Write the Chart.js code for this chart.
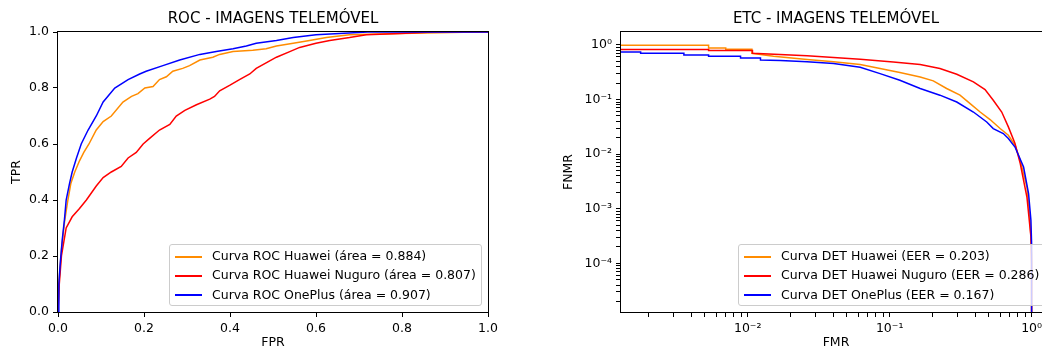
<!DOCTYPE html>
<html>
<head>
<meta charset="utf-8">
<script src="https://cdn.jsdelivr.net/npm/chart.js@4.4.0/dist/chart.umd.min.js"></script>
<style>
  html, body { margin: 0; padding: 0; background: #fff; overflow: hidden; }
  #page { position: relative; width: 1042px; height: 353px; overflow: hidden; }
  .panel { position: absolute; top: 0; height: 353px; }
  .legend {
    position: absolute; box-sizing: border-box;
    background: rgba(255, 255, 255, 0.8);
    border: 1px solid #ccc; border-radius: 3px;
    padding: 1px 5px;
    font: 12.5px "DejaVu Sans"; line-height: 19.3px; color: #000;
    white-space: nowrap;
  }
  .legend .swatch {
    display: inline-block; width: 27px; height: 2px;
    vertical-align: middle; margin-right: 10px;
  }
</style>
</head>
<body>
<div id="page">
  <div class="panel" id="rocPanel" style="left:0;width:520px"><canvas id="rocChart" width="520" height="353"></canvas></div>
  <div class="panel" id="detPanel" style="left:540px;width:512px"><canvas id="detChart" width="512" height="353"></canvas></div>
</div>
<script>
const FONT = "DejaVu Sans";

const devices = ["Huawei", "Huawei Nuguro", "OnePlus"];
const colors = ["#ff8c00", "#ff0000", "#0000ff"];
const aucValues = [0.884, 0.807, 0.907];
const eerValues = [0.203, 0.286, 0.167];

// ROC curves (FPR, TPR)
const rocFprHuawei = [0, 0.003, 0.008, 0.015, 0.023, 0.030, 0.039, 0.050, 0.060, 0.072, 0.089, 0.105, 0.124, 0.151, 0.171, 0.186, 0.202, 0.221, 0.236, 0.252, 0.267, 0.290, 0.306, 0.330, 0.360, 0.376, 0.407, 0.453, 0.484, 0.508, 0.547, 0.585, 0.624, 0.678, 0.795, 0.973, 1.0];
const rocTprHuawei = [0, 0.12, 0.22, 0.32, 0.40, 0.46, 0.50, 0.54, 0.57, 0.60, 0.65, 0.68, 0.70, 0.75, 0.77, 0.78, 0.80, 0.805, 0.83, 0.84, 0.86, 0.87, 0.88, 0.90, 0.91, 0.92, 0.93, 0.935, 0.94, 0.95, 0.96, 0.97, 0.98, 0.99, 0.995, 1.0, 1.0];

const rocFprNuguro = [0, 0.003, 0.008, 0.019, 0.033, 0.050, 0.066, 0.089, 0.105, 0.124, 0.147, 0.163, 0.182, 0.198, 0.213, 0.236, 0.260, 0.275, 0.295, 0.322, 0.353, 0.364, 0.376, 0.400, 0.422, 0.446, 0.461, 0.484, 0.508, 0.539, 0.562, 0.600, 0.632, 0.678, 0.717, 0.795, 0.872, 1.0];
const rocTprNuguro = [0, 0.10, 0.20, 0.30, 0.34, 0.37, 0.40, 0.45, 0.48, 0.50, 0.52, 0.55, 0.57, 0.60, 0.62, 0.65, 0.67, 0.70, 0.72, 0.74, 0.76, 0.77, 0.79, 0.81, 0.83, 0.85, 0.87, 0.89, 0.91, 0.93, 0.945, 0.96, 0.97, 0.98, 0.99, 0.995, 1.0, 1.0];

const rocFprOnePlus = [0, 0.002, 0.005, 0.010, 0.015, 0.019, 0.027, 0.033, 0.043, 0.054, 0.070, 0.089, 0.105, 0.132, 0.163, 0.190, 0.205, 0.244, 0.283, 0.330, 0.368, 0.407, 0.438, 0.461, 0.508, 0.547, 0.600, 0.720, 1.0];
const rocTprOnePlus = [0, 0.10, 0.17, 0.26, 0.33, 0.40, 0.46, 0.50, 0.55, 0.60, 0.65, 0.70, 0.75, 0.80, 0.83, 0.85, 0.86, 0.88, 0.90, 0.92, 0.93, 0.94, 0.95, 0.96, 0.97, 0.98, 0.99, 1.0, 1.0];

// DET curves (FMR, FNMR), first and last points fall outside the log axes
const detFmrHuawei = [0.001, 0.0053, 0.0053, 0.0070, 0.0070, 0.0107, 0.0107, 0.0152, 0.0262, 0.0403, 0.062, 0.0856, 0.118, 0.164, 0.203, 0.252, 0.313, 0.369, 0.434, 0.51, 0.60, 0.686, 0.764, 0.832, 0.927, 0.968, 0.99, 1.0, 1.0];
const detFnmrHuawei = [0.98, 0.98, 0.88, 0.88, 0.83, 0.83, 0.70, 0.62, 0.54, 0.49, 0.436, 0.368, 0.311, 0.259, 0.219, 0.159, 0.12, 0.0843, 0.059, 0.043, 0.0294, 0.0222, 0.0146, 0.0077, 0.0025, 0.00082, 0.0003, 0.00015, 1e-6];

const detFmrNuguro = [0.001, 0.0053, 0.0053, 0.0108, 0.0108, 0.0262, 0.062, 0.106, 0.164, 0.226, 0.297, 0.389, 0.47, 0.537, 0.616, 0.686, 0.764, 0.832, 0.927, 0.989, 1.0, 1.0];
const detFnmrNuguro = [0.82, 0.82, 0.785, 0.785, 0.70, 0.63, 0.545, 0.486, 0.436, 0.368, 0.29, 0.21, 0.152, 0.097, 0.059, 0.0315, 0.0156, 0.0067, 0.00164, 0.00031, 0.0001, 1e-6];

const detFmrOnePlus = [0.001, 0.00176, 0.00176, 0.00355, 0.00355, 0.0053, 0.0053, 0.0089, 0.0089, 0.0123, 0.0123, 0.017, 0.0262, 0.0403, 0.062, 0.0856, 0.118, 0.164, 0.226, 0.297, 0.389, 0.483, 0.537, 0.632, 0.686, 0.764, 0.878, 0.952, 0.989, 1.0, 1.0];
const detFnmrOnePlus = [0.74, 0.74, 0.70, 0.70, 0.654, 0.654, 0.618, 0.618, 0.576, 0.576, 0.53, 0.52, 0.49, 0.457, 0.39, 0.298, 0.225, 0.159, 0.12, 0.09, 0.059, 0.0388, 0.0294, 0.0238, 0.0193, 0.0135, 0.0058, 0.0019, 0.00062, 0.00023, 1e-6];

// axis limits
const rocLimits = [0, 1];
const detFmrLimits = [0.00128, 1.37];
const detFnmrLimits = [1.29e-5, 1.72];

const toPoints = (xs, ys) => xs.map((x, i) => ({ x: x, y: ys[i] }));

const rocSeries = [
  toPoints(rocFprHuawei, rocTprHuawei),
  toPoints(rocFprNuguro, rocTprNuguro),
  toPoints(rocFprOnePlus, rocTprOnePlus),
];
const detSeries = [
  toPoints(detFmrHuawei, detFnmrHuawei),
  toPoints(detFmrNuguro, detFnmrNuguro),
  toPoints(detFmrOnePlus, detFnmrOnePlus),
];

// box around the plot, like matplotlib spines
const framePlugin = {
  id: "frame",
  afterDatasetsDraw(chart) {
    const a = chart.chartArea;
    const ctx = chart.ctx;
    ctx.save();
    ctx.strokeStyle = "#000";
    ctx.lineWidth = 1;
    const l = Math.round(a.left) - 0.5, t = Math.round(a.top) - 0.5;
    const r = Math.round(a.right) + 0.5, b = Math.round(a.bottom) + 0.5;
    ctx.strokeRect(l, t, r - l, b - t);
    ctx.restore();
  }
};

const SUP = { "-": "\u207B", "0": "\u2070", "1": "\u00B9", "2": "\u00B2", "3": "\u00B3", "4": "\u2074", "5": "\u2075", "6": "\u2076", "7": "\u2077", "8": "\u2078", "9": "\u2079" };
const powLabel = e => "10" + String(e).split("").map(c => SUP[c]).join("");

// 1..9 x 10^n ticks, only the decades get a label
function logTicks(scale) {
  const ticks = [];
  const e0 = Math.floor(Math.log10(scale.min));
  const e1 = Math.ceil(Math.log10(scale.max));
  for (let e = e0; e <= e1; e++) {
    for (let k = 1; k <= 9; k++) {
      const v = k * Math.pow(10, e);
      if (v >= scale.min && v <= scale.max) ticks.push({ value: v, major: k === 1, exp: e });
    }
  }
  scale.ticks = ticks;
}
const logLabel = (v, i, ticks) => ticks[i].major ? powLabel(ticks[i].exp) : "";

const tickFont = { family: FONT, size: 12.5 };

function axis(extra) {
  return Object.assign({
    grid: { display: true, drawOnChartArea: false, drawTicks: true, tickLength: 5, tickColor: "#000", tickWidth: 1 },
    border: { display: false },
  }, extra);
}

function baseOptions(title, padRight) {
  return {
    responsive: false,
    animation: false,
    devicePixelRatio: 1,
    events: [],
    layout: { padding: { left: 0, right: padRight, top: 0, bottom: 0 } },
    elements: { point: { radius: 0 }, line: { borderWidth: 1.5, tension: 0 } },
    plugins: {
      legend: { display: false },
      tooltip: { enabled: false },
      title: {
        display: true, text: title, fullSize: false, color: "#000",
        font: { family: FONT, size: 15, weight: "normal", lineHeight: 1.2 },
        padding: { top: 10, bottom: 4 },
      },
    },
  };
}

function makeDatasets(series, labels) {
  return series.map((pts, i) => ({
    label: labels[i],
    data: pts,
    borderColor: colors[i],
    backgroundColor: colors[i],
    fill: false,
    order: series.length - i,
  }));
}

// legend in the lower right corner of the plot
function addLegend(chart, panelId, labels) {
  const a = chart.chartArea;
  const panel = document.getElementById(panelId);
  const box = document.createElement("div");
  box.className = "legend";
  labels.forEach((text, i) => {
    const row = document.createElement("div");
    const sw = document.createElement("span");
    sw.className = "swatch";
    sw.style.background = colors[i];
    row.appendChild(sw);
    row.appendChild(document.createTextNode(text));
    box.appendChild(row);
  });
  panel.appendChild(box);
  box.style.left = (a.right - 6 - box.offsetWidth) + "px";
  box.style.top = (a.bottom - 6 - box.offsetHeight) + "px";
}

// ROC
const rocLabels = devices.map((d, i) => "Curva ROC " + d + " (área = " + aucValues[i].toFixed(3) + ")");
const rocOptions = baseOptions("ROC - IMAGENS TELEMÓVEL", 32);
rocOptions.scales = {
  x: axis({
    type: "linear", min: rocLimits[0], max: rocLimits[1],
    ticks: { stepSize: 0.2, padding: 4, color: "#000", font: tickFont, maxRotation: 0, callback: v => v.toFixed(1) },
    title: { display: true, text: "FPR", color: "#000", font: tickFont, padding: { top: 0, bottom: 2.5 } },
    afterFit: s => { s.height = 41; },
  }),
  y: axis({
    type: "linear", min: rocLimits[0], max: rocLimits[1],
    ticks: { stepSize: 0.2, padding: 4, color: "#000", font: tickFont, callback: v => v.toFixed(1) },
    title: { display: true, text: "TPR", color: "#000", font: tickFont, padding: { top: 9, bottom: 0 } },
    afterFit: s => { s.width = 58; },
  }),
};
const rocChart = new Chart(document.getElementById("rocChart"), {
  type: "line",
  data: { datasets: makeDatasets(rocSeries, rocLabels) },
  options: rocOptions,
  plugins: [framePlugin],
});
addLegend(rocChart, "rocPanel", rocLabels);

// DET
const detLabels = devices.map((d, i) => "Curva DET " + d + " (EER = " + eerValues[i].toFixed(3) + ")");
const detOptions = baseOptions("ETC - IMAGENS TELEMÓVEL", 1);
detOptions.scales = {
  x: axis({
    type: "logarithmic", min: detFmrLimits[0], max: detFmrLimits[1],
    afterBuildTicks: logTicks,
    ticks: { autoSkip: false, padding: 4, color: "#000", font: tickFont, maxRotation: 0, minRotation: 0, callback: logLabel },
    title: { display: true, text: "FMR", color: "#000", font: tickFont, padding: { top: 0, bottom: 2.5 } },
    afterFit: s => { s.height = 41; },
  }),
  y: axis({
    type: "logarithmic", min: detFnmrLimits[0], max: detFnmrLimits[1],
    afterBuildTicks: logTicks,
    ticks: { autoSkip: false, padding: 4, color: "#000", font: tickFont, callback: logLabel },
    title: { display: true, text: "FNMR", color: "#000", font: tickFont, padding: { top: 21.5, bottom: 0 } },
    afterFit: s => { s.width = 81; },
  }),
};
const detChart = new Chart(document.getElementById("detChart"), {
  type: "line",
  data: { datasets: makeDatasets(detSeries, detLabels) },
  options: detOptions,
  plugins: [framePlugin],
});
addLegend(detChart, "detPanel", detLabels);
</script>
</body>
</html>
